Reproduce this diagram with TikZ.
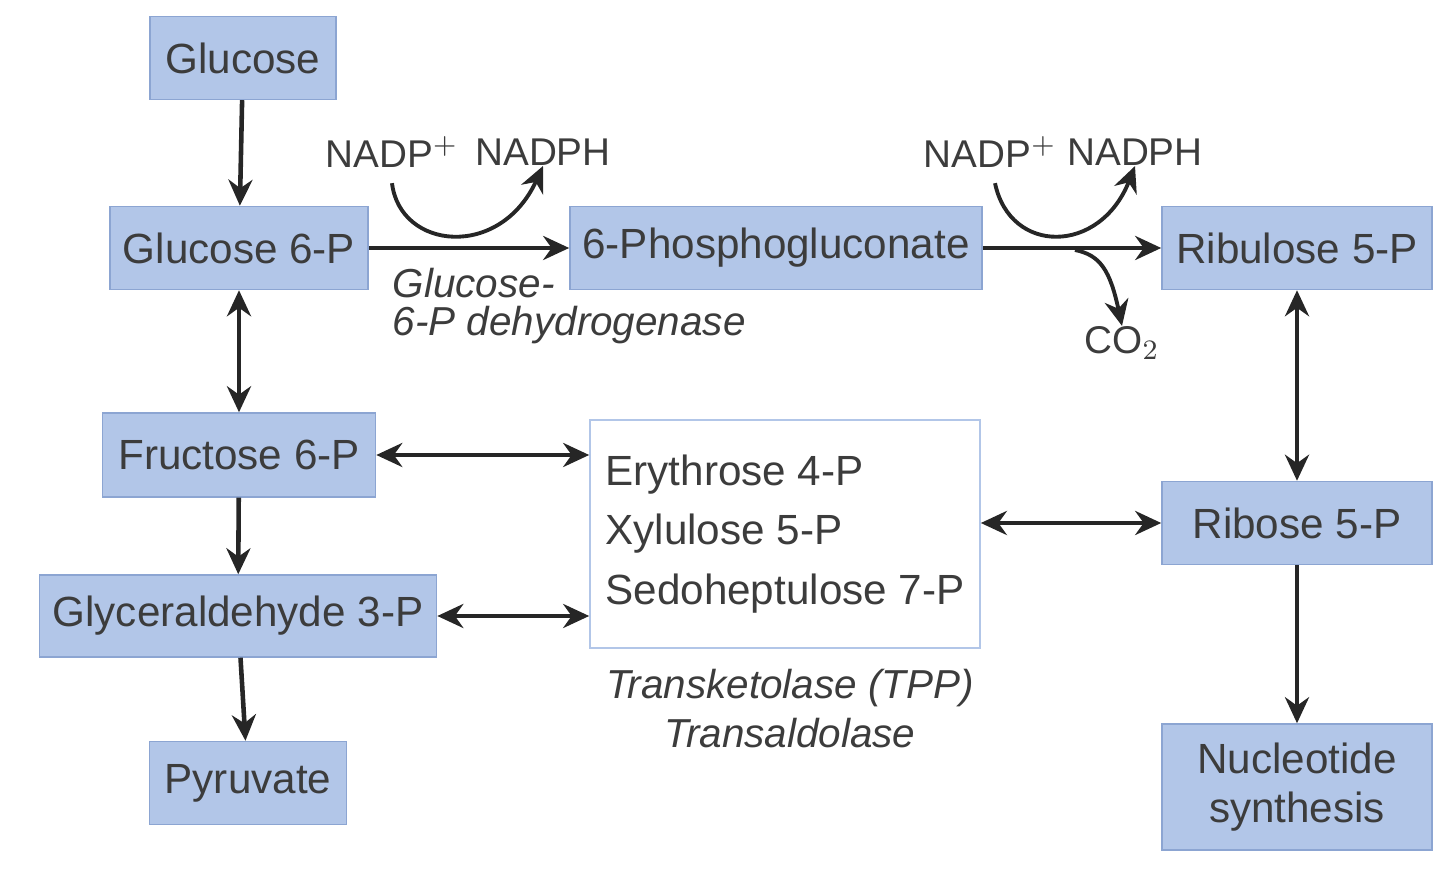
\documentclass[tikz,border=0pt]{standalone}
\usepackage{fontspec}
\setmainfont{Liberation Sans}
\usetikzlibrary{arrows.meta,positioning}
\definecolor{boxblue}{RGB}{178,198,232}
\definecolor{boxedge}{RGB}{140,165,210}
\definecolor{inkgray}{RGB}{60,60,60}
\tikzset{
  met/.style={draw=boxedge, fill=boxblue, text=inkgray, font=\fontsize{12}{14}\selectfont, inner sep=0pt, align=center},
  flow/.style={-{Stealth[length=2.6mm,width=2.4mm]}, line width=1.3pt, draw=black!85},
  both/.style={{Stealth[length=2.6mm,width=2.4mm]}-{Stealth[length=2.6mm,width=2.4mm]}, line width=1.3pt, draw=black!85},
  cofac/.style={font=\fontsize{11}{13}\selectfont, text=inkgray, inner sep=0pt},
  enz/.style={font=\itshape\fontsize{11.5}{13.5}\selectfont, text=inkgray, inner sep=0pt}
}
\begin{document}
\begin{tikzpicture}[x=0.01cm, y=-0.01cm]
  \useasboundingbox (0,0) rectangle (1440,892);

  % Metabolite boxes
  \node[met, minimum width=1.86cm, minimum height=0.83cm] (glc) at (243,58) {Glucose};
  \node[met, minimum width=2.58cm, minimum height=0.83cm] (g6p) at (239,248) {Glucose 6-P};
  \node[met, minimum width=4.12cm, minimum height=0.83cm] (pg) at (776,248) {6-Phosphogluconate};
  \node[met, minimum width=2.70cm, minimum height=0.83cm] (ru5p) at (1297,248) {Ribulose 5-P};
  \node[met, minimum width=2.73cm, minimum height=0.84cm] (f6p) at (239,455) {Fructose 6-P};
  \node[met, minimum width=3.97cm, minimum height=0.82cm] (gap) at (238,616) {Glyceraldehyde 3-P};
  \node[met, minimum width=1.97cm, minimum height=0.83cm] (pyr) at (248,783) {Pyruvate};
  \node[met, minimum width=2.70cm, minimum height=0.83cm] (r5p) at (1297,523) {Ribose 5-P};
  \node[met, minimum width=2.70cm, minimum height=1.26cm] (nuc) at (1297,787) {Nucleotide\\synthesis};

  % Sugar pool
  \node[draw=boxblue, fill=white, text=inkgray, minimum width=3.90cm, minimum height=2.28cm,
        font=\fontsize{12}{17}\selectfont, align=left, inner sep=0pt] (pool) at (785,534)
        {Erythrose 4-P\\Xylulose 5-P\\Sedoheptulose 7-P};

  % Enzymes
  \node[enz, anchor=west] (gpd1) at (392,283) {Glucose-};
  \node[enz, anchor=west] (gpd2) at (392,325) {6-P dehydrogenase};
  \node[enz] (tk) at (790,688) {Transketolase (TPP)};
  \node[enz] (ta) at (790,733) {Transaldolase};

  % Cofactors
  \node[cofac] (nadp1) at (392,152) {NADP$^{+}$};
  \node[cofac] (nadph1) at (543,152) {NADPH};
  \node[cofac] (nadp2) at (990,152) {NADP$^{+}$};
  \node[cofac] (nadph2) at (1135,152) {NADPH};
  \node[cofac] (co2) at (1122,343) {CO$_2$};

  % Main flow
  \draw[flow] (glc) -- (g6p);
  \draw[both] (g6p) -- (f6p);
  \draw[flow] (f6p) -- (gap);
  \draw[flow] (gap) -- (pyr);
  \draw[flow] (g6p) -- (pg);
  \draw[flow] (pg) -- (ru5p);
  \draw[both] (ru5p) -- (r5p);
  \draw[flow] (r5p) -- (nuc);
  \draw[both] (f6p.east) -- (pool.west |- f6p.east);
  \draw[both] (gap.east) -- (pool.west |- gap.east);
  \draw[both] (pool.east |- r5p.west) -- (r5p.west);

  % Cofactor curves
  \draw[flow, line width=1.1pt] (nadp1.south) ++(0,15) .. controls (400,250) and (500,260) .. (nadph1.south);
  \draw[flow, line width=1.1pt] (nadp2.south) ++(5,15) .. controls (1010,255) and (1100,255) .. (nadph2.south);
  \draw[flow, line width=1.1pt] (1075,250) .. controls (1100,255) and (1110,270) .. (co2.north);
\end{tikzpicture}
\end{document}
